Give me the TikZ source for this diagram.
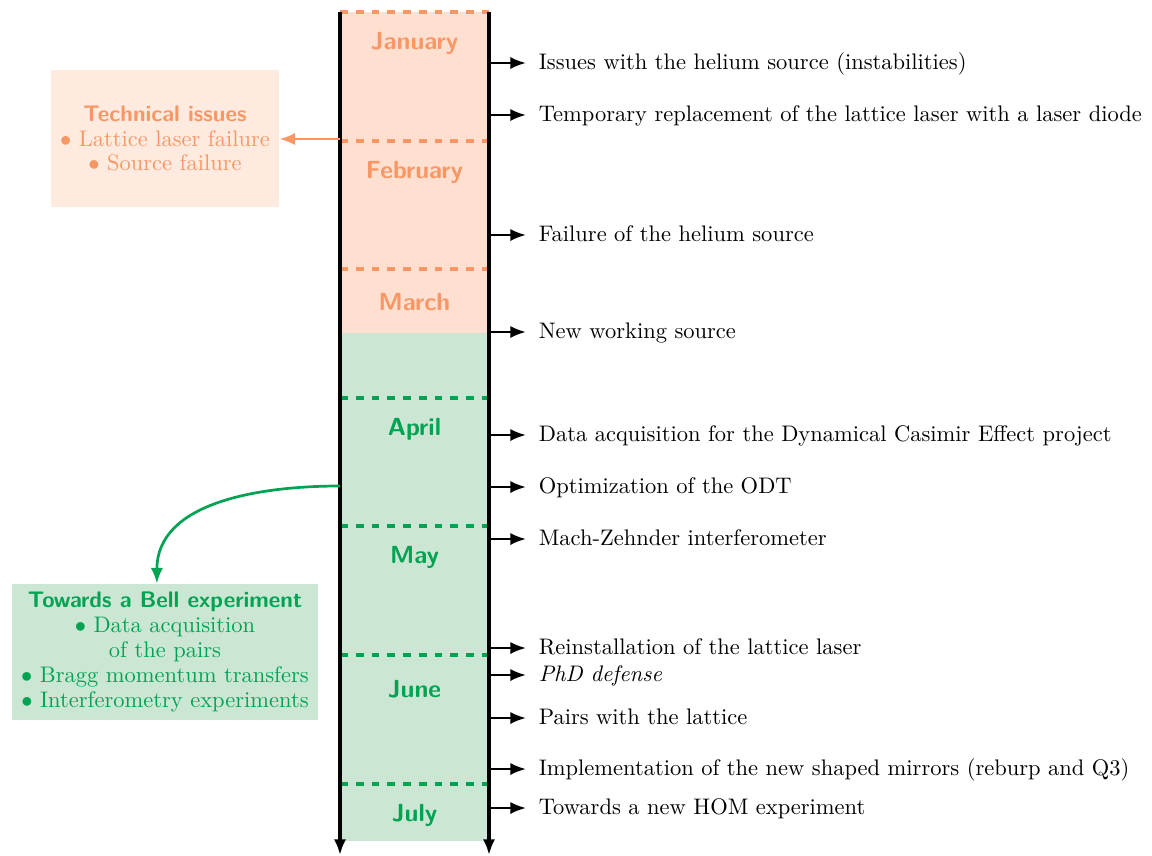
\documentclass[tikz,border=0pt]{standalone}
\usetikzlibrary{arrows.meta}

\definecolor{tlorange}{RGB}{248,150,100}
\definecolor{tlgreen}{RGB}{0,163,82}
\definecolor{orangeband}{RGB}{255,223,208}
\definecolor{orangebox}{RGB}{255,234,223}
\definecolor{greenband}{RGB}{204,230,212}

\begin{document}
\begin{tikzpicture}[x=0.4444pt,y=-0.4444pt,
  tip/.style={-{Latex[length=7pt,width=5.5pt]}},
  axis/.style={line width=1.4pt,tip},
  event/.style={line width=1.1pt,tip},
  eventtext/.style={anchor=mid west,inner xsep=5.5pt,inner ysep=0pt},
  sep/.style={line width=1.4pt,dash pattern=on 3.5pt off 3.5pt},
  month/.style={font=\fontsize{11}{13}\selectfont\sffamily\bfseries},
  infobox/.style={align=center,inner sep=0pt}]
\useasboundingbox (0,0) rectangle (1152,855);

% month bands
\fill[orangeband] (340,12) rectangle (489,333);
\fill[greenband] (340,333) rectangle (489,841);

% month separators
\foreach \y in {12,141,269}
  \draw[sep,tlorange] (340,\y) -- (489,\y);
\foreach \y in {398,526,655,784}
  \draw[sep,tlgreen] (340,\y) -- (489,\y);

% month names
\node[month,text=tlorange] (jan) at (414.5,43) {January};
\node[month,text=tlorange] (feb) at (414.5,172) {February};
\node[month,text=tlorange] (mar) at (414.5,302) {March};
\node[month,text=tlgreen] (apr) at (414.5,429) {April};
\node[month,text=tlgreen] (may) at (414.5,557) {May};
\node[month,text=tlgreen] (jun) at (414.5,689) {June};
\node[month,text=tlgreen] (jul) at (414.5,815) {July};

% time axes
\coordinate (ltop) at (340,12);
\coordinate (lbot) at (340,855);
\coordinate (rtop) at (489,12);
\coordinate (rbot) at (489,855);
\draw[axis] (ltop) -- (lbot);
\draw[axis] (rtop) -- (rbot);

% events
\foreach \n/\y/\t in {
  e1/63/{Issues with the helium source (instabilities)},
  e2/115/{Temporary replacement of the lattice laser with a laser diode},
  e3/235/{Failure of the helium source},
  e4/332/{New working source},
  e5/435/{Data acquisition for the Dynamical Casimir Effect project},
  e6/487/{Optimization of the ODT},
  e7/539/{Mach-Zehnder interferometer},
  e8/648/{Reinstallation of the lattice laser},
  e9/675/{\emph{PhD defense}},
  e10/718/{Pairs with the lattice},
  e11/769/{Implementation of the new shaped mirrors (reburp and Q3)},
  e12/808/{Towards a new HOM experiment}}{
  \coordinate (s\n) at (489,\y);
  \node[eventtext] (\n) at (526,\y+1.5) {\t};
  \draw[event] (s\n) -- (s\n -| \n.west);
}

% side boxes
\node[infobox,fill=orangebox,text=tlorange,minimum width=101.3pt,minimum height=60.9pt,
      font=\fontsize{10}{10.9}\selectfont] (tech) at (165,138.5)
  {{\sffamily\bfseries Technical issues}\\ $\bullet$ Lattice laser failure\\ $\bullet$ Source failure};
\node[infobox,fill=greenband,text=tlgreen,minimum width=136pt,minimum height=60.4pt,
      font=\fontsize{10}{11.2}\selectfont] (bell) at (165,652)
  {{\sffamily\bfseries Towards a Bell experiment}\\ $\bullet$ Data acquisition\\ of the pairs\\
   $\bullet$ Bragg momentum transfers\\ $\bullet$ Interferometry experiments};

\coordinate (techsrc) at (340,139);
\coordinate (bellsrc) at (340,486);
\draw[line width=1.2pt,tlorange,tip] (techsrc) -- (techsrc -| tech.east);
\draw[line width=1.2pt,tlgreen,tip] (bellsrc) to[out=180,in=90] ([xshift=-3.6pt]bell.north);
\end{tikzpicture}
\end{document}
